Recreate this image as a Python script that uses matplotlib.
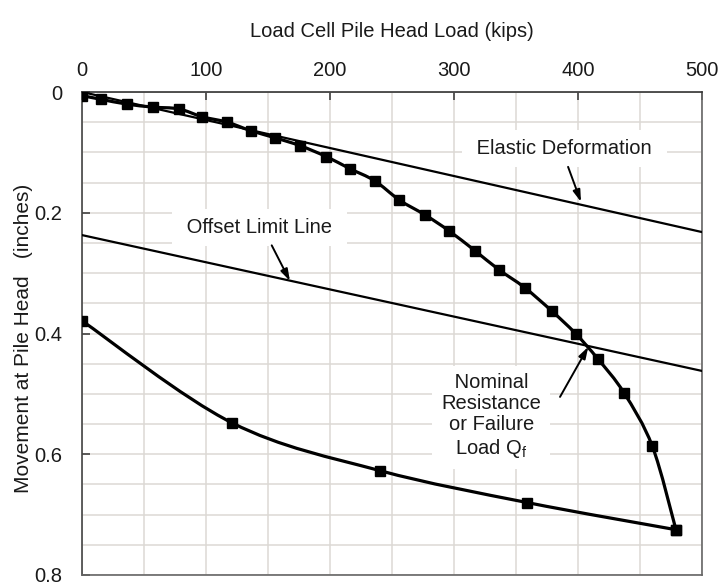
import numpy as np
import matplotlib
matplotlib.use("Agg")
import matplotlib.pyplot as plt
from matplotlib.path import Path
from matplotlib.patches import PathPatch

plt.rcParams['font.family'] = ['Liberation Sans', 'DejaVu Sans']

# load test readings (kips, inches)
load_up = [0, 15, 36, 57, 78, 97, 117, 136, 156, 176, 197, 216, 236,
           256, 277, 296, 317, 336, 357, 379, 398, 416, 437, 460, 479]
move_up = [0.006, 0.012, 0.020, 0.025, 0.028, 0.041, 0.050, 0.064, 0.076,
           0.089, 0.107, 0.127, 0.147, 0.179, 0.204, 0.230, 0.263, 0.294,
           0.324, 0.363, 0.400, 0.442, 0.498, 0.587, 0.725]

load_down = [479, 359, 240, 121, 0]
move_down = [0.725, 0.680, 0.627, 0.548, 0.379]

elastic_load = [0, 500]
elastic_move = [0, 0.232]

offset_load = [0, 500]
offset_move = [0.237, 0.462]

x_ticks = [0, 100, 200, 300, 400, 500]
y_ticks = [0, 0.2, 0.4, 0.6, 0.8]
y_tick_labels = ['0', '0.2', '0.4', '0.6', '0.8']


def smooth_path(xs, ys):
    # catmull-rom style bezier through the points (like a spreadsheet "smoothed line")
    pts = np.column_stack([xs, ys]).astype(float)
    n = len(pts)
    verts = [pts[0]]
    codes = [Path.MOVETO]
    for i in range(n - 1):
        p0 = pts[max(i - 1, 0)]
        p1 = pts[i]
        p2 = pts[i + 1]
        p3 = pts[min(i + 2, n - 1)]
        verts += [p1 + (p2 - p0) / 6, p2 - (p3 - p1) / 6, p2]
        codes += [Path.CURVE4] * 3
    return Path(verts, codes)


fig = plt.figure(figsize=(7.21, 5.88), dpi=100)
ax = fig.add_axes([82 / 721, 13 / 588, 620 / 721, 483 / 588])

ax.set_xlim(0, 500)
ax.set_ylim(0.8, 0)

# light grid every 50 kips / 0.05 in
ax.set_xticks(np.arange(0, 501, 50), minor=True)
ax.set_yticks(np.arange(0, 0.801, 0.05), minor=True)
ax.grid(which='both', color='#dcd8d4', lw=1.1, zorder=0)
ax.set_axisbelow(True)

ax.xaxis.tick_top()
ax.xaxis.set_label_position('top')
ax.set_xticks(x_ticks)
ax.set_yticks(y_ticks)
ax.set_yticklabels(y_tick_labels)
ax.tick_params(which='major', direction='in', length=6, width=1.1,
               color='#333333', labelsize=14.5, labelcolor='#1a1a1a')
ax.tick_params(axis='x', pad=9)
ax.tick_params(axis='y', pad=14)
ax.tick_params(which='minor', length=0)
for s in ax.spines.values():
    s.set_color('#666666')
    s.set_linewidth(1.2)
ax.spines['top'].set_color('#333333')
ax.spines['left'].set_color('#444444')

ax.set_xlabel('Load Cell Pile Head Load (kips)', fontsize=14.5,
              color='#1a1a1a', labelpad=17)
ax.set_ylabel('Movement at Pile Head   (inches)', fontsize=15,
              color='#1a1a1a')
ax.yaxis.set_label_coords(-0.079, 0.49)

# reference lines
ax.plot(elastic_load, elastic_move, color='black', lw=1.6, zorder=3)
ax.plot(offset_load, offset_move, color='black', lw=1.6, zorder=3)

# load / unload curves
for xs, ys in [(load_up, move_up), (load_down, move_down)]:
    ax.add_patch(PathPatch(smooth_path(xs, ys), fc='none', ec='black',
                           lw=2.3, zorder=4, capstyle='round'))
    ax.plot(xs, ys, ls='none', marker='s', ms=6.5, color='black', zorder=5)

box = dict(boxstyle='square,pad=0.45', fc='white', ec='none')
txt = dict(fontsize=14.5, color='#1a1a1a', ha='center', va='center',
           zorder=2, bbox=box)
arrow = dict(arrowstyle='-|>,head_length=0.7,head_width=0.22',
             color='black', lw=1.4, shrinkA=0, shrinkB=0)

ax.text(389, 0.093, ' Elastic Deformation ', **txt)
ax.annotate('', xy=(402.4, 0.182), xytext=(392, 0.124), arrowprops=arrow,
            zorder=6)

ax.text(143, 0.224, ' Offset Limit Line ', **txt)
ax.annotate('', xy=(167.7, 0.313), xytext=(153, 0.254), arrowprops=arrow,
            zorder=6)

ax.text(330, 0.537, ' Nominal \nResistance\nor Failure\nLoad Q$_\\mathregular{f}$',
        linespacing=1.15, **txt)
ax.annotate('', xy=(408.3, 0.422), xytext=(385.5, 0.505), arrowprops=arrow,
            zorder=6)

fig.savefig('out.png', dpi=100)
